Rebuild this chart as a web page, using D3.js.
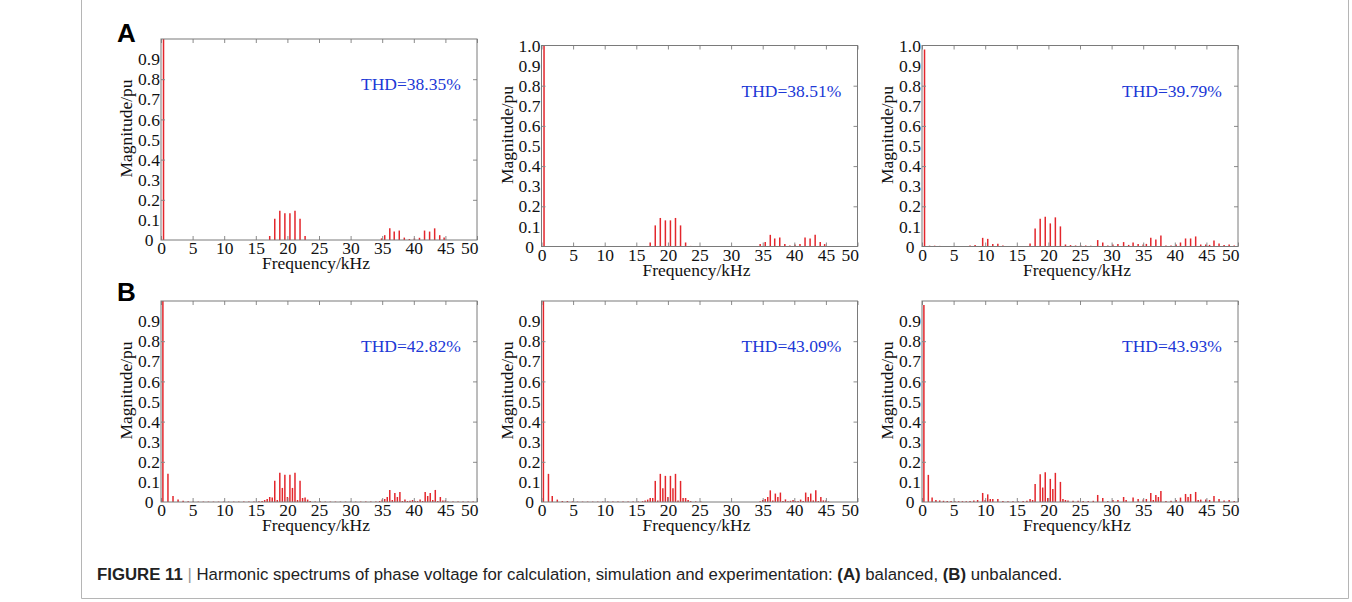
<!DOCTYPE html>
<html>
<head>
<meta charset="utf-8">
<script src="https://cdn.jsdelivr.net/npm/d3@7"></script>
<style>
  body { margin: 0; background: #fff; }
  svg { display: block; }
  .serif { font-family: "Liberation Serif", "Times New Roman", serif; font-size: 17.5px; fill: #111; }
</style>
</head>
<body>
<svg id="fig" width="1352" height="602"></svg>
<script>
// ---- data ----
var xTicks = [0, 5, 10, 15, 20, 25, 30, 35, 40, 45, 50];
var yTicksShort = [0, 0.1, 0.2, 0.3, 0.4, 0.5, 0.6, 0.7, 0.8, 0.9];
var yTicksLong = [0, 0.1, 0.2, 0.3, 0.4, 0.5, 0.6, 0.7, 0.8, 0.9, 1.0];
var yMinor = [0.2, 0.4, 0.6, 0.8];
var thdLabels = ["THD=38.35%", "THD=38.51%", "THD=39.79%", "THD=42.82%", "THD=43.09%", "THD=43.93%"];

// (A) balanced - calculation
var freqA1 = [0.4, 17.2, 18.0, 18.8, 19.6, 20.4, 21.2, 22.0, 22.8, 34.9, 35.4, 36.2, 36.9, 37.7, 38.5, 39.3, 40.1, 40.9, 41.7, 42.5, 43.3, 44.1, 44.8];
var magA1  = [1.0, 0.02, 0.106, 0.145, 0.133, 0.133, 0.145, 0.106, 0.02, 0.008, 0.024, 0.058, 0.042, 0.047, 0.012, 0.005, 0.008, 0.011, 0.047, 0.042, 0.058, 0.024, 0.013];

// (A) balanced - simulation
var freqA2 = [0.4, 16.4, 17.2, 18.0, 18.8, 19.6, 20.4, 21.2, 22.0, 22.8, 23.6, 34.6, 35.4, 36.2, 36.9, 37.7, 38.5, 39.3, 40.1, 40.9, 41.7, 42.5, 43.3, 44.1, 44.8];
var magA2  = [1.0, 0.003, 0.02, 0.105, 0.142, 0.13, 0.13, 0.142, 0.105, 0.02, 0.003, 0.012, 0.022, 0.058, 0.04, 0.045, 0.012, 0.005, 0.01, 0.012, 0.045, 0.04, 0.058, 0.022, 0.012];

// (A) balanced - experiment
var freqA3 = [0.4, 1.2, 2.0, 2.8, 3.6, 4.4, 5.2, 6.0, 6.8, 7.6, 8.4, 9.6, 10.4, 11.2, 12.0, 12.8, 13.6, 14.4, 15.2, 16.0,
  17.1, 17.9, 18.7, 19.5, 20.3, 21.1, 21.9, 22.7, 23.5, 24.3, 25.1, 25.9, 26.7, 27.8, 28.6, 29.4, 30.2, 31.0, 31.9,
  32.7, 33.4, 34.2, 35.0, 35.5, 36.2, 37.0, 37.8, 38.6, 39.4, 40.2, 40.9, 41.7, 42.5, 43.3, 44.1, 44.9, 45.5, 46.2,
  47.0, 47.8, 48.6, 49.4];
var magA3  = [0.98, 0.004, 0.004, 0.003, 0.003, 0.003, 0.002, 0.002, 0.003, 0.005, 0.008, 0.043, 0.038, 0.013, 0.014, 0.005, 0.003, 0.003, 0.003, 0.003,
  0.015, 0.09, 0.138, 0.148, 0.115, 0.145, 0.1, 0.01, 0.007, 0.005, 0.006, 0.005, 0.004, 0.032, 0.02, 0.005, 0.01, 0.012, 0.022,
  0.008, 0.02, 0.012, 0.01, 0.013, 0.043, 0.035, 0.055, 0.005, 0.005, 0.01, 0.02, 0.04, 0.04, 0.05, 0.01, 0.01, 0.008, 0.03,
  0.015, 0.008, 0.01, 0.005];

// (B) unbalanced - calculation
var freqB1 = [0.3, 1.1, 1.9, 2.7, 3.5, 4.3, 5.1, 5.9, 6.7, 7.5, 8.3, 9.1, 9.9, 10.7, 11.5, 12.3, 13.1, 13.9, 14.7, 15.5, 16.0, 16.4, 16.8,
  17.2, 17.6, 18.0, 18.4, 18.8, 19.2, 19.6, 20.0, 20.4, 20.8, 21.2, 21.6, 22.0, 22.4, 22.8, 23.2, 23.6, 24.4, 25.2, 26.0, 26.8,
  27.6, 28.4, 29.2, 30.0, 30.8, 31.6, 32.4, 33.2, 34.0, 34.6, 35.0, 35.4, 35.8, 36.2, 36.6, 37.0, 37.4, 37.8, 38.2, 38.6, 39.0,
  39.4, 39.8, 40.2, 40.6, 41.0, 41.4, 41.8, 42.2, 42.6, 43.0, 43.4, 43.8, 44.2, 44.6, 45.0, 45.4, 46.2, 47.0, 47.8, 48.6, 49.4];
var magB1  = [1.0, 0.14, 0.03, 0.012, 0.006, 0.004, 0.003, 0.002, 0.002, 0.002, 0.002, 0.002, 0.002, 0.002, 0.002, 0.002, 0.002, 0.002, 0.002, 0.004, 0.005, 0.01, 0.015,
  0.025, 0.022, 0.106, 0.01, 0.145, 0.07, 0.135, 0.025, 0.135, 0.07, 0.145, 0.01, 0.106, 0.02, 0.022, 0.012, 0.005, 0.003, 0.003, 0.002, 0.002,
  0.002, 0.002, 0.002, 0.002, 0.002, 0.002, 0.002, 0.002, 0.002, 0.005, 0.012, 0.015, 0.025, 0.06, 0.01, 0.045, 0.025, 0.05, 0.005, 0.013, 0.005,
  0.006, 0.01, 0.005, 0.005, 0.012, 0.005, 0.05, 0.03, 0.045, 0.01, 0.06, 0.005, 0.025, 0.008, 0.008, 0.003, 0.002, 0.002, 0.002, 0.002, 0.002];

// (B) unbalanced - simulation
var freqB2 = [0.3, 1.1, 1.7, 2.5, 3.3, 4.1, 4.9, 5.7, 6.5, 7.3, 8.1, 8.9, 9.7, 10.5, 11.3, 12.1, 12.9, 13.7, 14.5, 15.3, 16.0, 16.4, 16.8,
  17.2, 17.6, 18.0, 18.4, 18.8, 19.2, 19.6, 20.0, 20.4, 20.8, 21.2, 21.6, 22.0, 22.4, 22.8, 23.2, 23.6, 24.4, 25.2, 34.6, 35.0, 35.4,
  35.8, 36.2, 36.6, 37.0, 37.4, 37.8, 38.2, 38.6, 39.0, 39.4, 39.8, 40.2, 40.6, 41.0, 41.4, 41.8, 42.2, 42.6, 43.0, 43.4, 43.8,
  44.2, 44.6, 45.0, 45.4];
var magB2  = [1.0, 0.14, 0.03, 0.012, 0.005, 0.005, 0.003, 0.002, 0.002, 0.002, 0.002, 0.002, 0.002, 0.002, 0.002, 0.002, 0.002, 0.002, 0.002, 0.003, 0.004, 0.008, 0.012,
  0.02, 0.02, 0.105, 0.008, 0.14, 0.068, 0.13, 0.025, 0.13, 0.068, 0.14, 0.008, 0.105, 0.02, 0.02, 0.01, 0.004, 0.003, 0.002, 0.004, 0.01, 0.015,
  0.025, 0.058, 0.008, 0.042, 0.025, 0.047, 0.005, 0.013, 0.004, 0.006, 0.01, 0.004, 0.005, 0.012, 0.005, 0.047, 0.025, 0.042, 0.008, 0.058, 0.005,
  0.025, 0.008, 0.008, 0.003];

// (B) unbalanced - experiment
var freqB3 = [0.3, 1.0, 1.6, 2.2, 2.8, 3.4, 4.0, 4.6, 5.2, 5.8, 6.4, 7.0, 7.6, 8.2, 8.8, 9.6, 10.0, 10.4, 10.8, 11.2, 12.0, 12.8, 13.6,
  14.4, 15.2, 16.0, 16.6, 17.1, 17.5, 17.9, 18.7, 19.1, 19.5, 19.9, 20.3, 20.7, 21.1, 21.9, 22.3, 22.7, 23.1, 23.9, 24.7, 25.5,
  26.3, 27.1, 27.8, 28.6, 29.4, 30.2, 31.0, 31.9, 32.3, 33.4, 34.2, 35.0, 35.5, 36.2, 36.6, 37.0, 37.4, 37.8, 38.6, 39.4,
  40.2, 40.9, 41.7, 42.1, 42.5, 43.3, 43.7, 44.1, 44.9, 45.5, 46.2, 47.0, 47.8, 48.6, 49.4];
var magB3  = [0.98, 0.135, 0.022, 0.01, 0.008, 0.006, 0.005, 0.005, 0.004, 0.004, 0.004, 0.004, 0.005, 0.008, 0.01, 0.045, 0.01, 0.038, 0.015, 0.015, 0.015, 0.005, 0.004,
  0.004, 0.004, 0.005, 0.006, 0.015, 0.01, 0.09, 0.138, 0.072, 0.148, 0.02, 0.115, 0.065, 0.145, 0.1, 0.015, 0.01, 0.008, 0.006, 0.006, 0.005,
  0.005, 0.006, 0.035, 0.02, 0.005, 0.01, 0.01, 0.025, 0.01, 0.022, 0.015, 0.012, 0.015, 0.045, 0.01, 0.035, 0.025, 0.055, 0.005, 0.006,
  0.01, 0.022, 0.04, 0.025, 0.04, 0.05, 0.01, 0.012, 0.012, 0.01, 0.03, 0.015, 0.008, 0.01, 0.005];

// ---- layout ----
var svg = d3.select("#fig");
var plotW = 316, plotH = 201;

var panels = [
  {left: 161,   top: 39,  freq: freqA1, mag: magA1, thd: thdLabels[0], yTicks: yTicksShort},
  {left: 541.5, top: 45.5, freq: freqA2, mag: magA2, thd: thdLabels[1], yTicks: yTicksLong},
  {left: 922,   top: 45.5, freq: freqA3, mag: magA3, thd: thdLabels[2], yTicks: yTicksLong},
  {left: 161,   top: 301, freq: freqB1, mag: magB1, thd: thdLabels[3], yTicks: yTicksShort},
  {left: 541.5, top: 301, freq: freqB2, mag: magB2, thd: thdLabels[4], yTicks: yTicksShort},
  {left: 922,   top: 301, freq: freqB3, mag: magB3, thd: thdLabels[5], yTicks: yTicksShort}
];

// outer frame of the figure
svg.append("path")
  .attr("d", "M81.5,0 V598.5 H1348.5 V0")
  .attr("fill", "none")
  .attr("stroke", "#b5b5b5")
  .attr("stroke-width", 1);

function drawPanel(p) {
  var g = svg.append("g").attr("transform", `translate(${p.left}, ${p.top})`);

  var x = d3.scaleLinear().domain([0, 50]).range([0, plotW]);
  var y = d3.scaleLinear().domain([0, 1]).range([plotH, 0]);

  // spectrum bars
  g.selectAll("line.bar")
    .data(d3.zip(p.freq, p.mag))
    .join("line")
    .attr("class", "bar")
    .attr("x1", d => x(d[0]))
    .attr("x2", d => x(d[0]))
    .attr("y1", y(0))
    .attr("y2", d => y(Math.min(d[1], 1)))
    .attr("stroke", "#e3262c")
    .attr("stroke-width", 1.5);

  // bottom axis with labels, ticks pointing in
  var xAxis = g.append("g")
    .attr("transform", `translate(0, ${plotH})`)
    .call(d3.axisBottom(x).tickValues(xTicks).tickSize(-4).tickPadding(2));
  xAxis.select(".domain").remove();
  xAxis.selectAll("text").attr("class", "serif").attr("fill", null);
  xAxis.selectAll(".tick").filter(d => d === 50)
    .select("text").attr("text-anchor", "end").attr("x", 1);

  // top ticks
  var topAxis = g.append("g")
    .call(d3.axisTop(x).tickValues(xTicks).tickSize(-4).tickFormat(""));
  topAxis.select(".domain").remove();

  // left labels
  var yAxis = g.append("g")
    .call(d3.axisLeft(y).tickValues(p.yTicks).tickSize(0).tickFormat(d => d === 0 ? "0" : d3.format(".1f")(d)));
  yAxis.select(".domain").remove();
  yAxis.selectAll("text").attr("class", "serif").attr("fill", null)
    .attr("text-anchor", "middle").attr("x", -12);

  // left / right tick marks
  var yl = g.append("g").call(d3.axisLeft(y).tickValues(yMinor).tickSize(-4).tickFormat(""));
  yl.select(".domain").remove();
  var yr = g.append("g").attr("transform", `translate(${plotW}, 0)`)
    .call(d3.axisRight(y).tickValues(yMinor).tickSize(-4).tickFormat(""));
  yr.select(".domain").remove();

  g.selectAll(".tick line").attr("stroke", "#8a8a8a");

  // axes box
  g.append("rect")
    .attr("width", plotW)
    .attr("height", plotH)
    .attr("fill", "none")
    .attr("stroke", "#7a7a7a")
    .attr("stroke-width", 1);

  // axis titles
  g.append("text")
    .attr("class", "serif")
    .attr("x", plotW / 2 - 3)
    .attr("y", plotH + 29)
    .attr("text-anchor", "middle")
    .text("Frequency/kHz");

  g.append("text")
    .attr("class", "serif")
    .attr("transform", `translate(-29, ${plotH / 2 - 11}) rotate(-90)`)
    .attr("text-anchor", "middle")
    .text("Magnitude/pu");

  // THD annotation
  g.append("text")
    .attr("class", "serif")
    .attr("x", 200)
    .attr("y", 51)
    .style("fill", "#2038d6")
    .text(p.thd);
}

panels.forEach(drawPanel);

// panel letters
svg.append("text").attr("x", 117).attr("y", 42)
  .style("font-family", "'Liberation Sans', Arial, sans-serif").style("font-weight", "bold").style("font-size", "26px")
  .text("A");
svg.append("text").attr("x", 117).attr("y", 301)
  .style("font-family", "'Liberation Sans', Arial, sans-serif").style("font-weight", "bold").style("font-size", "26px")
  .text("B");

// caption
var cap = svg.append("text")
  .attr("x", 97)
  .attr("y", 580)
  .style("font-family", "'Liberation Sans', Arial, sans-serif")
  .style("font-size", "16.8px")
  .style("fill", "#222");
cap.append("tspan").style("font-weight", "bold").text("FIGURE 11");
cap.append("tspan").style("fill", "#999").text(" | ");
cap.append("tspan").text("Harmonic spectrums of phase voltage for calculation, simulation and experimentation: ");
cap.append("tspan").style("font-weight", "bold").text("(A)");
cap.append("tspan").text(" balanced, ");
cap.append("tspan").style("font-weight", "bold").text("(B)");
cap.append("tspan").text(" unbalanced.");
</script>
</body>
</html>
